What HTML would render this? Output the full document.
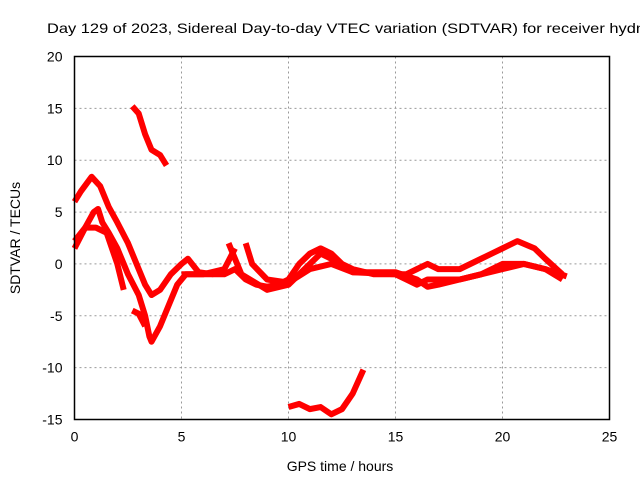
<!DOCTYPE html>
<html><head><meta charset="utf-8"><style>
html,body{margin:0;padding:0;background:#fff;}
svg{display:block;font-family:"Liberation Sans",sans-serif;}
</style></head><body>
<svg id="chart" width="640" height="480">
<text x="47" y="33" font-size="14" textLength="598" lengthAdjust="spacingAndGlyphs">Day 129 of 2023, Sidereal Day-to-day VTEC variation (SDTVAR) for receiver hydn</text>
<g id="grid"></g><g id="series"></g><g id="axes"></g>
<text x="340" y="471" font-size="14" text-anchor="middle">GPS time / hours</text>
<text transform="translate(20,238) rotate(-90)" font-size="14" text-anchor="middle">SDTVAR / TECUs</text>
</svg>
<script>
const xTicks=[0,5,10,15,20,25];
const yTicks=[20,15,10,5,0,-5,-10,-15];
const traceA=[[0,6],[0.3,7],[0.8,8.4],[1.2,7.5],[1.6,5.5],[2.0,4],[2.5,2],[3.0,-0.5],[3.3,-2],[3.6,-3],[4.0,-2.5],[4.5,-1],[5,0],[5.3,0.5],[5.8,-0.8],[6.5,-1]];
const traceB=[[0,1.5],[0.5,3.5],[0.9,5],[1.1,5.3],[1.3,4],[1.6,3],[2.0,1.5],[2.5,-1],[3,-3],[3.3,-5],[3.5,-7],[3.6,-7.5],[4,-6],[4.4,-4],[4.8,-2],[5.2,-1],[6,-1],[7,-0.5],[7.5,1.5]];
const traceC=[[0,2.2],[0.5,3.5],[1.0,3.5],[1.5,3],[2.0,0],[2.3,-2.5]];
const traceD=[[2.7,-4.5],[3.0,-4.8],[3.3,-6]];
const traceE=[[2.7,15.2],[3.0,14.5],[3.3,12.5],[3.6,11],[4.0,10.5],[4.3,9.5]];
const traceF=[[10,-13.8],[10.5,-13.5],[11,-14],[11.5,-13.8],[12,-14.5],[12.5,-14],[13,-12.5],[13.5,-10.2]];
const traceG=[[5,-1],[6,-1],[7,-1],[7.5,-0.5],[8,-1.5],[8.5,-2],[9,-2.2],[9.5,-2],[10,-1.5],[10.5,0],[11,1],[11.5,1.5],[12,1],[12.5,0],[13,-0.5],[14,-1],[15,-1],[15.5,-1],[16,-0.5],[16.5,0],[17,-0.5],[18,-0.5],[19,0.5],[19.5,1],[20,1.5],[20.7,2.2],[21.5,1.5],[22,0.5],[22.8,-1]];
const traceH=[[7.2,2],[7.8,-1],[9,-2.5],[10,-2],[10.5,-1],[11,0],[11.5,1],[12,0.5],[13,-0.8],[15,-1],[15.5,-1.5],[16,-2],[16.5,-1.5],[17,-1.5],[18,-1.5],[19,-1],[20,-0.5],[21,0],[22,-0.5],[22.8,-1.5]];
const traceI=[[8,2],[8.3,0],[9,-1.5],[10,-1.8],[11,-0.5],[12,0],[13,-0.8],[15,-0.8],[16,-1.5],[16.5,-2.2],[17,-2],[18,-1.5],[19,-1],[20,0],[21,0],[22,-0.5],[23,-1.2]];
const traces=[traceA,traceB,traceC,traceD,traceE,traceF,traceG,traceH,traceI];
const L=74.5,R=609.5,T=56.5,B=419.5;
const sx=v=>L+(v-0)/25*(R-L);
const sy=v=>T+(20-v)/35*(B-T);
const NS='http://www.w3.org/2000/svg';
const grid=document.getElementById('grid'),axes=document.getElementById('axes'),ser=document.getElementById('series');
function mk(tag,attrs,parent){const e=document.createElementNS(NS,tag);for(const k in attrs)e.setAttribute(k,attrs[k]);parent.appendChild(e);return e;}
xTicks.forEach(t=>{
 if(t>0&&t<25){const g=mk('line',{x1:sx(t),x2:sx(t),y1:T,y2:B,stroke:'#999','stroke-dasharray':'2,3'},grid);
 
 }
 const tx=mk('text',{x:sx(t),y:B+22,'font-size':14,'text-anchor':'middle'},axes);tx.textContent=t;
 
 
});
yTicks.forEach(t=>{
 if(t<20&&t>-15){const g=mk('line',{x1:L,x2:R,y1:sy(t),y2:sy(t),stroke:'#999','stroke-dasharray':'2,3'},grid);
 
 }
 const tx=mk('text',{x:L-12,y:sy(t)+5,'font-size':14,'text-anchor':'end'},axes);tx.textContent=t;
 
 
});
const box=mk('rect',{x:L,y:T,width:R-L,height:B-T,fill:'none',stroke:'#000','stroke-width':1.5},axes);


traces.forEach(tr=>{
 const p=mk('polyline',{points:tr.map(d=>sx(d[0])+','+sy(d[1])).join(' '),fill:'none',stroke:'#f00','stroke-width':6,'stroke-linejoin':'round','stroke-linecap':'butt'},ser);
 
 
});
</script>
</body></html>
